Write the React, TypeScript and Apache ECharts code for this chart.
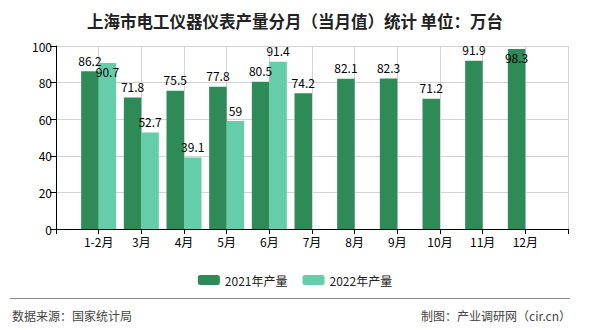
import React, { useEffect, useRef } from "react";
import * as echarts from "echarts";

const categories = ["1-2月", "3月", "4月", "5月", "6月", "7月", "8月", "9月", "10月", "11月", "12月"];
const values2021 = [86.2, 71.8, 75.5, 77.8, 80.5, 74.2, 82.1, 82.3, 71.2, 91.9, 98.3];
const values2022: (number | null)[] = [90.7, 52.7, 39.1, 59, 91.4, null, null, null, null, null, null];
const seriesNames = ["2021年产量", "2022年产量"];
const yTicks = { min: 0, max: 100, interval: 20 };

const title = "上海市电工仪器仪表产量分月（当月值）统计 单位：万台";
const sourceText = "数据来源：国家统计局";
const makerText = "制图：产业调研网（cir.cn）";

const FONT = "'Noto Sans CJK SC', 'Noto Sans', sans-serif";

// label nudges (style only) for labels that the original moved to avoid overlap
const labelNudge2021: Record<number, number> = { 10: 19 };
const labelNudge2022: Record<number, number> = { 0: 19 };

function buildSeriesData(vals: (number | null)[], nudge: Record<number, number>) {
  const inner = vals.map((v, i) =>
    v == null
      ? null
      : nudge[i] != null
      ? { value: v, label: { offset: [0, nudge[i]] } }
      : v
  );
  return [null, ...inner, null];
}

export default function App() {
  const ref = useRef<HTMLDivElement>(null);
  useEffect(() => {
    document.body.style.margin = "0";
    if (!ref.current) return;
    const chart = echarts.init(ref.current, null, { renderer: "svg" });
    const axisCats = ["", ...categories, ""];
    const labelStyle = {
      show: true,
      position: "top" as const,
      distance: 5,
      color: "#000",
      fontSize: 12,
      fontFamily: FONT,
    };
    chart.setOption({
      animation: false,
      backgroundColor: "#fff",
      title: {
        text: title,
        left: "center",
        top: 8,
        textStyle: { fontSize: 16.5, fontWeight: "bold", color: "#222", fontFamily: FONT },
      },
      legend: {
        data: seriesNames,
        left: "center",
        top: 269,
        itemWidth: 22,
        itemHeight: 10,
        itemGap: 15,
        textStyle: { fontSize: 12, color: "#222", fontFamily: FONT },
      },
      grid: { left: 56, right: 22, top: 46, bottom: 101, containLabel: false },
      xAxis: {
        type: "category",
        data: axisCats,
        boundaryGap: false,
        axisLine: { lineStyle: { color: "#000", width: 1 } },
        axisTick: { show: true, length: 5, lineStyle: { color: "#000" } },
        axisLabel: { interval: 0, color: "#000", fontSize: 12, fontFamily: FONT, margin: 6 },
        splitLine: { show: true, lineStyle: { color: "#d3d3d3", width: 1 } },
      },
      yAxis: {
        type: "value",
        min: yTicks.min,
        max: yTicks.max,
        interval: yTicks.interval,
        axisLine: { show: true, lineStyle: { color: "#000", width: 1 } },
        axisTick: { show: true, length: 6, lineStyle: { color: "#000" } },
        axisLabel: { color: "#000", fontSize: 12, fontFamily: FONT, margin: 4 },
        splitLine: { show: true, lineStyle: { color: "#d3d3d3", width: 1 } },
      },
      series: [
        {
          name: seriesNames[0],
          type: "bar",
          data: buildSeriesData(values2021, labelNudge2021),
          itemStyle: { color: "#2e8b57" },
          barGap: "0%",
          barCategoryGap: "18%",
          label: labelStyle,
        },
        {
          name: seriesNames[1],
          type: "bar",
          data: buildSeriesData(values2022, labelNudge2022),
          itemStyle: { color: "#66cdaa" },
          barGap: "0%",
          barCategoryGap: "18%",
          label: labelStyle,
        },
      ],
      graphic: [
        {
          type: "line",
          shape: { x1: 10, y1: 298.5, x2: 570, y2: 298.5 },
          style: { stroke: "#888", lineWidth: 1 },
        },
        {
          type: "text",
          left: 12,
          top: 309,
          style: { text: sourceText, fontSize: 12, fill: "#444", fontFamily: FONT },
        },
        {
          type: "text",
          right: 19,
          top: 309,
          style: { text: makerText, fontSize: 12, fill: "#444", fontFamily: FONT },
        },
      ],
    });
    return () => chart.dispose();
  }, []);
  return <div ref={ref} style={{ width: 590, height: 330 }} />;
}
